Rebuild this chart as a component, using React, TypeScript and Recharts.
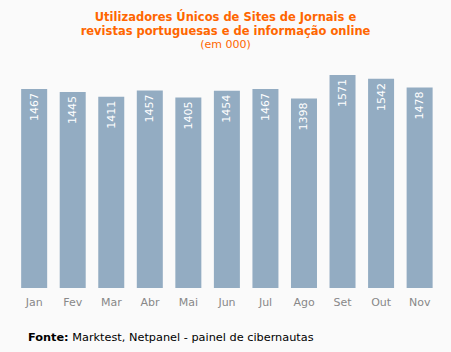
import React from 'react';
import { BarChart, Bar, XAxis, YAxis, LabelList } from 'recharts';

const months = ['Jan', 'Fev', 'Mar', 'Abr', 'Mai', 'Jun', 'Jul', 'Ago', 'Set', 'Out', 'Nov'];
const users = [1467, 1445, 1411, 1457, 1405, 1454, 1467, 1398, 1571, 1542, 1478];

const titleLines = ['Utilizadores Únicos de Sites de Jornais e', 'revistas portuguesas e de informação online'];
const subtitle = '(em 000)';
const sourceLabel = 'Fonte:';
const sourceText = ' Marktest, Netpanel - painel de cibernautas';

const data = months.map((m, i) => ({ month: m, value: users[i] }));

const FONT = '"DejaVu Sans", Verdana, sans-serif';

const ValueLabel = (props: any) => {
  const { x, y, width, value } = props;
  const cx = x + width / 2;
  const ty = y + 4;
  return (
    <text
      x={cx}
      y={ty}
      transform={`rotate(-90, ${cx}, ${ty})`}
      textAnchor="end"
      dominantBaseline="central"
      fill="#ffffff"
      fontSize={11}
      fontFamily={FONT}
    >
      {value}
    </text>
  );
};

export default function App() {
  return (
    <div style={{ position: 'absolute', left: 0, top: 0, width: 451, height: 352, background: '#fafafa', fontFamily: FONT }}>
      <div style={{ position: 'absolute', left: 0, top: 10, width: 451, textAlign: 'center', color: '#ff6600', fontSize: 11.5, lineHeight: '14px' }}>
        <div style={{ fontWeight: 'bold' }}>{titleLines[0]}</div>
        <div style={{ fontWeight: 'bold' }}>{titleLines[1]}</div>
        <div style={{ fontSize: 11 }}>{subtitle}</div>
      </div>
      <div style={{ position: 'absolute', left: 0, top: 0 }}>
        <BarChart width={451} height={352} data={data} margin={{ top: 71, right: 12, left: 15, bottom: 0 }} barCategoryGap="16%">
          <XAxis
            dataKey="month"
            axisLine={false}
            tickLine={false}
            height={64}
            tick={{ fill: '#888888', fontSize: 11, fontFamily: FONT, dy: 2 }}
            interval={0}
          />
          <YAxis hide domain={[0, 1600]} />
          <Bar dataKey="value" fill="#93acc2" isAnimationActive={false}>
            <LabelList dataKey="value" content={ValueLabel} />
          </Bar>
        </BarChart>
      </div>
      <div style={{ position: 'absolute', left: 28, top: 331, fontSize: 11.3, color: '#000', lineHeight: '14px' }}>
        <b>{sourceLabel}</b>{sourceText}
      </div>
    </div>
  );
}
